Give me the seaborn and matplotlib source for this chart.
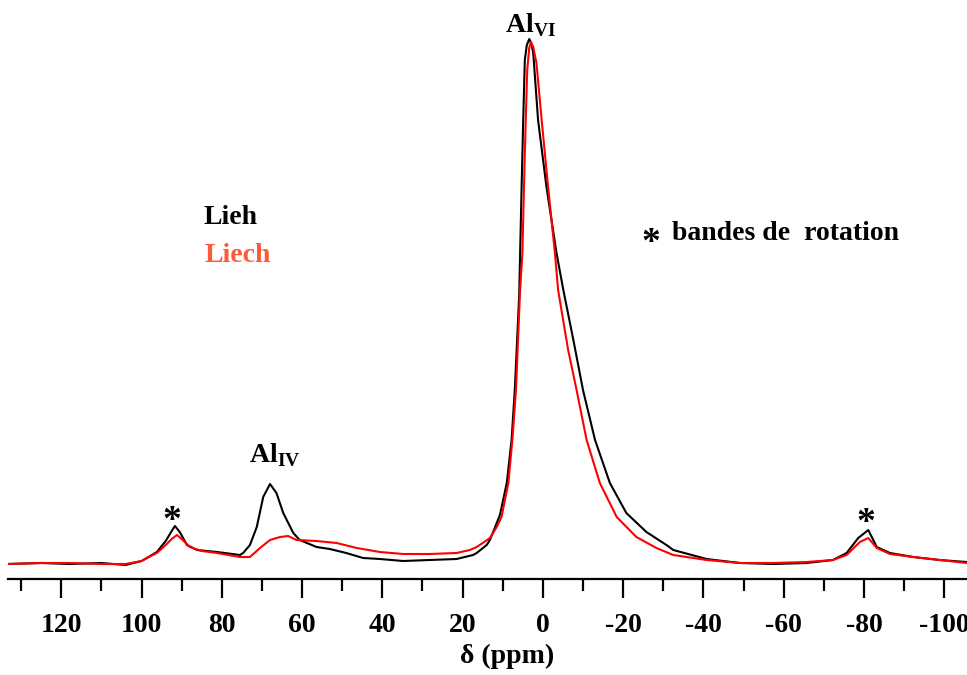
import matplotlib
matplotlib.use("Agg")
import matplotlib.pyplot as plt
import numpy as np
import pandas as pd
import seaborn as sns
from matplotlib.ticker import MultipleLocator

# 27Al MAS NMR spectra, intensities in arbitrary units
ppm_lieh = [133.3, 125, 118, 110, 104, 100, 98.7, 96.2, 94, 92.5, 91.7, 90.5, 88.7, 86.2,
            81.2, 75.5, 74.7, 73, 71.3, 69.7, 68, 66.4, 64.7, 62.2, 60.6, 56.4, 53.1, 49,
            44.8, 40.6, 34.8, 28.2, 21.5, 17.4, 16.5, 14.0, 13.2, 11.5, 10.7, 9.0, 7.8, 7.0,
            5.9, 5.3, 4.9, 4.5, 4.0, 3.4, 2.9, 2.4, 1.2, -0.9, -3.4, -5.1, -7.6, -10.0,
            -13.0, -16.7, -20.8, -25.8, -30.8, -32.5, -40.8, -49.1, -57.4, -65.7, -72.3,
            -75.7, -78.6, -81.1, -83.2, -86.5, -92.3, -98.9, -105.6]
int_lieh = [-1, 0, -1, 0, -2, 2, 5, 11, 22, 32, 37, 31, 18, 13,
            11, 8, 10, 18, 36, 66, 79, 70, 50, 30, 23, 16, 14, 10,
            5, 4, 2, 3, 4, 8, 10, 18, 23, 40, 48, 80, 123, 173,
            268, 376, 443, 503, 518, 524, 520, 510, 443, 376, 310, 273, 223, 173,
            123, 80, 50, 31, 18, 13, 4, 0, -1, 0, 3,
            10, 25, 33, 16, 10, 6, 3, 1]

ppm_liech = [133.3, 125, 118, 110, 104, 100, 98.7, 96.2, 94, 92.5, 91.2, 90, 88, 85,
             81.2, 75.5, 73, 70.5, 68, 65.5, 63.5, 61.4, 56.4, 51.4, 46.4, 40.6, 34.8, 28.2,
             21.5, 18.2, 16.5, 15, 13.2, 11.5, 10.3, 8.6, 7.6, 6.7, 5.7, 5.1, 4.5, 3.9,
             3.4, 3.0, 2.4, 1.6, 0.3, -1.3, -3.0, -3.8, -6.3, -8.4, -10.9, -14.2, -18.4,
             -23.3, -28.3, -32.5, -40.8, -49.1, -57.4, -65.7, -72.3, -75.7, -79.0, -81.1,
             -83.2, -86.5, -92.3, -98.9, -105.6]
int_liech = [-1, 0, 0, -1, -1, 2, 5, 10, 18, 24, 28, 24, 16, 12,
             10, 6, 6, 15, 23, 26, 27, 23, 22, 20, 15, 11, 9, 9,
             10, 13, 16, 20, 25, 36, 46, 80, 123, 173, 271, 310, 410, 493,
             515, 521, 516, 500, 443, 376, 310, 273, 213, 173, 123, 80, 46,
             26, 15, 8, 3, 0, 0, 1, 3, 8, 21, 25,
             15, 9, 6, 3, 0]

samples = ["Lieh", "Liech"]
line_colors = ["black", "red"]
text_colors = ["black", "#FF5A36"]

df = pd.concat([
    pd.DataFrame({"ppm": ppm_lieh, "intensity": int_lieh, "sample": samples[0]}),
    pd.DataFrame({"ppm": ppm_liech, "intensity": int_liech, "sample": samples[1]}),
])

sns.set_style("white")
plt.rcParams["font.family"] = ["Liberation Serif", "DejaVu Serif"]
plt.rcParams["font.weight"] = "bold"
plt.rcParams["text.color"] = "black"
plt.rcParams["axes.labelcolor"] = "black"
plt.rcParams["xtick.color"] = "black"
plt.rcParams["axes.unicode_minus"] = False
plt.rcParams["mathtext.fontset"] = "custom"
plt.rcParams["mathtext.bf"] = "Liberation Serif:bold"
plt.rcParams["mathtext.rm"] = "Liberation Serif:bold"

fig = plt.figure(figsize=(9.67, 6.75), dpi=100)
ax = fig.add_axes([8 / 967, 96 / 675, 959 / 967, 559 / 675])

sns.lineplot(data=df, x="ppm", y="intensity", hue="sample", hue_order=samples,
             palette=line_colors, linewidth=1.5, sort=False, legend=False, ax=ax)

ax.set_xlim(133.3, -105.7)
ax.set_ylim(-16, 543)

for side in ["top", "left", "right"]:
    ax.spines[side].set_visible(False)
ax.spines["bottom"].set_linewidth(1.6)
ax.spines["bottom"].set_color("black")

ax.set_yticks([])
ax.xaxis.set_major_locator(MultipleLocator(20))
ax.xaxis.set_minor_locator(MultipleLocator(10))
ax.tick_params(axis="x", which="major", direction="out", length=13.5, width=1.6,
               pad=11, labelsize=20, colors="black", bottom=True)
ax.tick_params(axis="x", which="minor", direction="out", length=8.5, width=1.6,
               bottom=True)
for lbl in ax.get_xticklabels():
    lbl.set_fontweight("bold")

ax.set_xlabel("δ (ppm)", fontsize=20, fontweight="bold", labelpad=4, color="black")
ax.xaxis.label.set_x(0.52)
ax.set_ylabel("")

# annotations
ax.text(3.2, 531, r"$\mathbf{Al}_{\mathbf{VI}}$", fontsize=20, ha="center", va="baseline")
ax.text(66.8, 101, r"$\mathbf{Al}_{\mathbf{IV}}$", fontsize=20, ha="center", va="baseline")
ax.text(92.4, 42, "*", fontsize=27, ha="center", va="center", fontweight="bold")
ax.text(-80.5, 40, "*", fontsize=27, ha="center", va="center", fontweight="bold")

ax.text(84.7, 345, samples[0], color=text_colors[0], fontsize=20, fontweight="bold",
        ha="left", va="center")
ax.text(84.4, 308, samples[1], color=text_colors[1], fontsize=20, fontweight="bold",
        ha="left", va="center")
ax.text(-26.9, 320, "*", fontsize=27, fontweight="bold", ha="center", va="center")
ax.text(-32.1, 330, "bandes de  rotation", fontsize=20, fontweight="bold",
        ha="left", va="center")

fig.savefig("out.png", dpi=100)
